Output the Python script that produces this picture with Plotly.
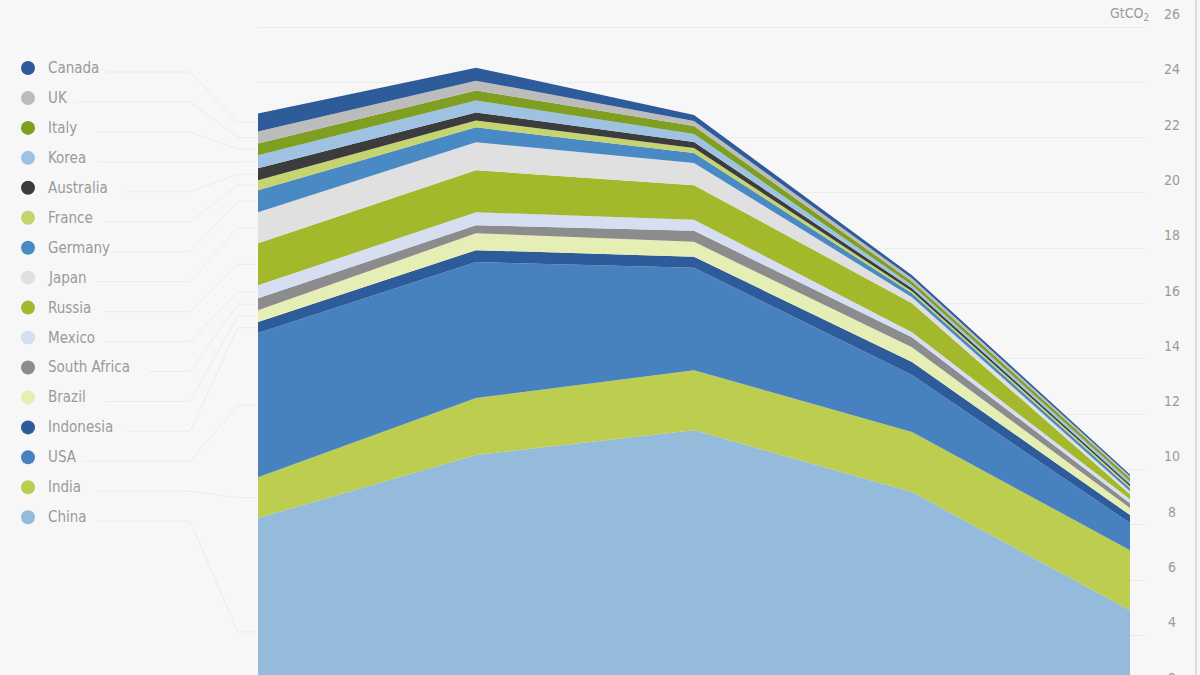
"""
Stacked area chart of projected CO2 emissions by country (GtCO2)
"""
import plotly.graph_objects as go

# data -----------------------------------------------------------------
years = [2010, 2020, 2030, 2040, 2050]

# bottom of the stack first
countries = ['China', 'India', 'USA', 'Indonesia', 'Brazil', 'South Africa',
             'Mexico', 'Russia', 'Japan', 'Germany', 'France', 'Australia',
             'Korea', 'Italy', 'UK', 'Canada']

china = [8.24, 10.52, 11.42, 9.18, 4.91]
india = [1.48, 2.06, 2.17, 2.17, 2.17]
usa = [5.21, 4.92, 3.70, 2.06, 0.98]
indonesia = [0.40, 0.43, 0.40, 0.47, 0.29]
brazil = [0.43, 0.61, 0.54, 0.54, 0.25]
south_africa = [0.43, 0.29, 0.40, 0.36, 0.18]
mexico = [0.47, 0.47, 0.40, 0.18, 0.14]
russia = [1.52, 1.52, 1.25, 1.05, 0.18]
japan = [1.12, 1.01, 0.80, 0.22, 0.11]
germany = [0.80, 0.54, 0.36, 0.14, 0.11]
france = [0.36, 0.25, 0.18, 0.07, 0.07]
australia = [0.43, 0.29, 0.22, 0.11, 0.07]
korea = [0.47, 0.43, 0.29, 0.11, 0.11]
italy = [0.43, 0.36, 0.29, 0.14, 0.11]
uk = [0.43, 0.36, 0.18, 0.11, 0.07]
canada = [0.65, 0.47, 0.22, 0.11, 0.07]

series = [china, india, usa, indonesia, brazil, south_africa, mexico, russia,
          japan, germany, france, australia, korea, italy, uk, canada]

colors = ['#95bbdc', '#bccd4f', '#4781bf', '#2e5c9a', '#e5eeb4', '#8c8c8c',
          '#d6def2', '#a4b82c', '#e0e0e0', '#4a8ac4', '#c5d46e', '#3c3c3c',
          '#9fc2e3', '#7f9f22', '#bcbcbc', '#2e5c9a']

y_ticks = list(range(2, 27, 2))

# layout helpers --------------------------------------------------------
W, H = 1200, 675
LEFT, RIGHT = 258, 55
PX_PER_UNIT = 27.65
Y_MAX = 26 + 27 / PX_PER_UNIT
Y_MIN = Y_MAX - H / PX_PER_UNIT
PLOT_W = W - LEFT - RIGHT
X_MAX = 2010 + PLOT_W / (872 / 40)

FONT = 'Liberation Sans Narrow, DejaVu Sans Condensed, Roboto, sans-serif'
TEXT_GREY = '#9a9a9a'


def px_x(px):
    return (px - LEFT) / PLOT_W


def px_y(py):
    return 1 - py / H


def val_to_py(v):
    return (Y_MAX - v) * PX_PER_UNIT


def val_to_paper(v):
    return (v - Y_MIN) / (Y_MAX - Y_MIN)


fig = go.Figure()

for name, vals, col in zip(countries, series, colors):
    fig.add_trace(go.Scatter(
        x=years, y=vals, name=name,
        mode='lines', stackgroup='one',
        line=dict(width=0, color=col),
        fillcolor=col,
        hoverinfo='x+y+name',
    ))

shapes = []
annotations = []

# custom legend with leader lines to the left edge of the stack
cum = 0
mids = []
for i, vals in enumerate(series):
    lo = cum
    cum += vals[0]
    mids.append((lo + cum) / 2)

for k, name in enumerate(reversed(countries)):
    idx = len(countries) - 1 - k
    ly = 68 + k * 29.95
    col = colors[idx]
    shapes.append(dict(
        type='circle', xref='paper', yref='paper',
        x0=px_x(21), x1=px_x(35), y0=px_y(ly + 7), y1=px_y(ly - 7),
        fillcolor=col, line=dict(width=0),
    ))
    annotations.append(dict(
        xref='paper', yref='paper', x=px_x(46), y=px_y(ly),
        text=name, showarrow=False, xanchor='left', yanchor='middle',
        font=dict(family=FONT, size=15, color=TEXT_GREY),
    ))
    x_start = 47 + 7.3 * len(name) + 14
    band_py = val_to_py(mids[idx])
    path = 'M {:.5f},{:.5f} L {:.5f},{:.5f} L {:.5f},{:.5f} L {:.5f},{:.5f}'.format(
        px_x(x_start), px_y(ly + 4), px_x(190), px_y(ly + 4),
        px_x(238), px_y(band_py), px_x(256), px_y(band_py))
    shapes.append(dict(
        type='path', xref='paper', yref='paper', path=path,
        line=dict(color='#ebebeb', width=1), layer='below',
    ))

# y tick labels sit above their gridlines
for t in y_ticks:
    annotations.append(dict(
        xref='paper', yref='paper', x=px_x(1172), y=val_to_paper(t), yshift=13,
        text=str(t), showarrow=False, xanchor='center', yanchor='middle',
        font=dict(family=FONT, size=14, color=TEXT_GREY),
    ))
annotations.append(dict(
    xref='paper', yref='paper', x=px_x(1151), y=val_to_paper(26), yshift=13,
    text='GtCO<sub>2</sub>', showarrow=False, xanchor='right', yanchor='middle',
    font=dict(family=FONT, size=14, color=TEXT_GREY),
))

# right border line
shapes.append(dict(
    type='line', xref='paper', yref='paper',
    x0=px_x(1196), x1=px_x(1196), y0=0, y1=1,
    line=dict(color='#dedede', width=2),
))

fig.update_layout(
    width=W, height=H,
    margin=dict(l=LEFT, r=RIGHT, t=0, b=0),
    paper_bgcolor='#f7f7f7',
    plot_bgcolor='#f7f7f7',
    showlegend=False,
    shapes=shapes,
    annotations=annotations,
    xaxis=dict(range=[2010, X_MAX], showgrid=False, zeroline=False,
               showticklabels=False, showline=False),
    yaxis=dict(range=[Y_MIN, Y_MAX], tickvals=y_ticks, showgrid=True,
               gridcolor='#ebebeb', gridwidth=1, zeroline=False,
               showticklabels=False, showline=False),
)

fig.write_html("out.html", config={'displayModeBar': False},
               post_script="document.body.style.margin='0';")
